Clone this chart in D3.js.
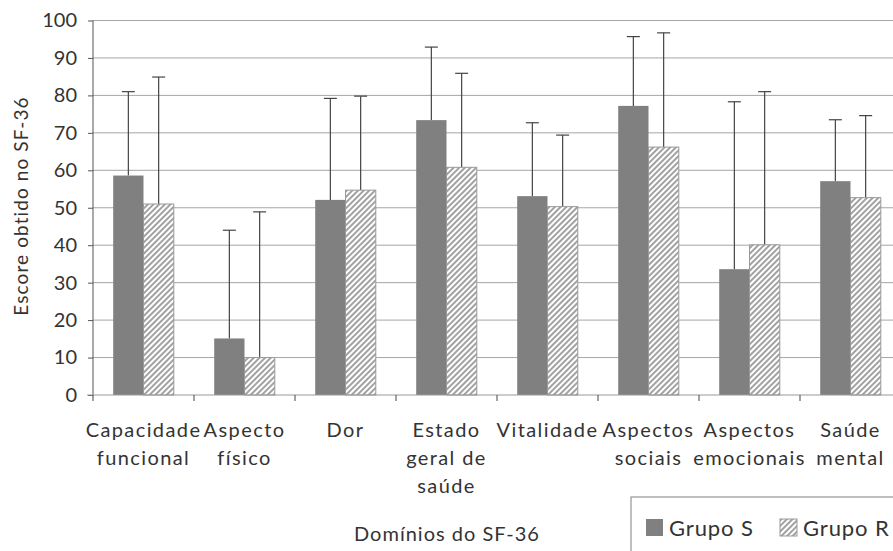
<!DOCTYPE html>
<html>
<head>
<meta charset="utf-8">
<script src="https://cdn.jsdelivr.net/npm/d3@7"></script>
<style>
  body { margin: 0; background: #fff; }
  svg { font-family: Lato, "Open Sans", sans-serif; }
</style>
</head>
<body>
<svg id="chart" width="893" height="551"></svg>
<script>
// Domains of the SF-36 (label lines)
const categories = [
  ['Capacidade', 'funcional'],
  ['Aspecto', 'físico'],
  ['Dor'],
  ['Estado', 'geral de', 'saúde'],
  ['Vitalidade'],
  ['Aspectos', 'sociais'],
  ['Aspectos', 'emocionais'],
  ['Saúde', 'mental']
];
const seriesNames = ['Grupo S', 'Grupo R'];
// Mean scores
const grupoS = [58.6, 15.1, 52.1, 73.4, 53.1, 77.2, 33.6, 57.1];
const grupoR = [51.0, 10.0, 54.7, 60.8, 50.3, 66.2, 40.1, 52.7];
// Top of the error bars
const grupoSTop = [81.0, 44.0, 79.2, 92.9, 72.7, 95.7, 78.3, 73.5];
const grupoRTop = [84.9, 48.9, 79.8, 85.9, 69.4, 96.7, 81.0, 74.6];
const yTicks = [0, 10, 20, 30, 40, 50, 60, 70, 80, 90, 100];

const svg = d3.select('#chart');
const plotLeft = 93, plotRight = 901, plotTop = 20.5, plotBottom = 395;

const x0 = d3.scaleBand()
  .domain(d3.range(categories.length))
  .range([plotLeft, plotRight])
  .paddingInner(0.4)
  .paddingOuter(0.2);
const x1 = d3.scaleBand()
  .domain(seriesNames)
  .range([0, x0.bandwidth()]);
const y = d3.scaleLinear().domain([0, 100]).range([plotBottom, plotTop]);

// hatch pattern for Grupo R
const defs = svg.append('defs');
const pat = defs.append('pattern')
  .attr('id', 'hatch')
  .attr('patternUnits', 'userSpaceOnUse')
  .attr('width', 4).attr('height', 4)
  .attr('patternTransform', 'rotate(45)');
pat.append('rect').attr('width', 4).attr('height', 4).attr('fill', '#fff');
pat.append('line')
  .attr('x1', 1).attr('y1', 0).attr('x2', 1).attr('y2', 4)
  .attr('stroke', '#8a8a8a').attr('stroke-width', 1.6);

// gridlines
svg.append('g')
  .selectAll('line')
  .data(yTicks.filter(d => d > 0))
  .join('line')
  .attr('x1', plotLeft).attr('x2', plotRight)
  .attr('y1', d => y(d)).attr('y2', d => y(d))
  .attr('stroke', '#a6a6a6').attr('stroke-width', 1);

// y axis
const yAxis = svg.append('g')
  .attr('transform', `translate(${plotLeft},0)`)
  .call(d3.axisLeft(y).tickValues(yTicks).tickSize(5).tickPadding(11));
yAxis.select('.domain').attr('stroke', '#555').attr('d', `M0,${plotTop}V${plotBottom}`);
yAxis.selectAll('.tick line').attr('stroke', '#555');
yAxis.selectAll('.tick text')
  .attr('font-size', 20).attr('fill', '#333')
  .attr('font-family', 'Lato, sans-serif');

// bars
const colors = { 'Grupo S': '#808080', 'Grupo R': 'url(#hatch)' };
const data = categories.map((c, i) => ({
  i,
  values: [
    { key: 'Grupo S', v: grupoS[i], top: grupoSTop[i] },
    { key: 'Grupo R', v: grupoR[i], top: grupoRTop[i] }
  ]
}));

const groups = svg.append('g')
  .selectAll('g')
  .data(data)
  .join('g')
  .attr('transform', d => `translate(${x0(d.i)},0)`);

// error bars (drawn first so bars sit on top of the stem)
groups.selectAll('g.err')
  .data(d => d.values)
  .join('g')
  .attr('class', 'err')
  .each(function (d) {
    const g = d3.select(this);
    const cx = x1(d.key) + x1.bandwidth() / 2;
    g.append('line')
      .attr('x1', cx).attr('x2', cx)
      .attr('y1', y(d.v)).attr('y2', y(d.top))
      .attr('stroke', '#444').attr('stroke-width', 1.2);
    g.append('line')
      .attr('x1', cx - 6.5).attr('x2', cx + 6.5)
      .attr('y1', y(d.top)).attr('y2', y(d.top))
      .attr('stroke', '#444').attr('stroke-width', 1.2);
  });

groups.selectAll('rect')
  .data(d => d.values)
  .join('rect')
  .attr('x', d => x1(d.key))
  .attr('width', x1.bandwidth())
  .attr('y', d => y(d.v))
  .attr('height', d => y(0) - y(d.v))
  .attr('fill', d => colors[d.key])
  .attr('stroke', d => d.key === 'Grupo R' ? '#999' : 'none')
  .attr('stroke-width', 1);

// x axis baseline + boundary ticks
svg.append('line')
  .attr('x1', plotLeft - 6).attr('x2', plotRight)
  .attr('y1', plotBottom).attr('y2', plotBottom)
  .attr('stroke', '#999').attr('stroke-width', 1.2);
const boundaries = d3.range(categories.length + 1).map(i => plotLeft + i * x0.step());
svg.append('g')
  .selectAll('line')
  .data(boundaries)
  .join('line')
  .attr('x1', d => d).attr('x2', d => d)
  .attr('y1', plotBottom).attr('y2', plotBottom + 6)
  .attr('stroke', '#444').attr('stroke-width', 1);

// category labels
svg.append('g')
  .selectAll('text')
  .data(categories)
  .join('text')
  .attr('text-anchor', 'middle')
  .attr('font-size', 20)
  .attr('fill', '#333')
  .attr('letter-spacing', 1.4)
  .each(function (lines, i) {
    const cx = plotLeft + i * x0.step() + x0.step() / 2;
    d3.select(this).selectAll('tspan')
      .data(lines)
      .join('tspan')
      .attr('x', cx)
      .attr('y', (d, j) => 437 + j * 28)
      .text(d => d);
  });

// axis titles
svg.append('text')
  .attr('x', 447).attr('y', 541)
  .attr('text-anchor', 'middle')
  .attr('font-size', 20).attr('fill', '#333')
  .attr('letter-spacing', 1)
  .text('Domínios do SF-36');

svg.append('text')
  .attr('transform', 'translate(28,206) rotate(-90)')
  .attr('text-anchor', 'middle')
  .attr('font-size', 19).attr('fill', '#333')
  .attr('letter-spacing', 1.1)
  .text('Escore obtido no SF-36');

// legend
const legend = svg.append('g');
legend.append('rect')
  .attr('x', 631).attr('y', 497)
  .attr('width', 300).attr('height', 100)
  .attr('fill', '#fff').attr('stroke', '#808080').attr('stroke-width', 1);
const legendX = [646, 780];
const items = legend.selectAll('g.item')
  .data(seriesNames)
  .join('g')
  .attr('class', 'item')
  .attr('transform', (d, i) => `translate(${legendX[i]},519)`);
items.append('rect')
  .attr('width', 17).attr('height', 17)
  .attr('fill', d => colors[d])
  .attr('stroke', d => d === 'Grupo R' ? '#999' : 'none');
items.append('text')
  .attr('x', 23).attr('y', 17)
  .attr('font-size', 22).attr('fill', '#333')
  .attr('letter-spacing', 0.9)
  .text(d => d);
</script>
</body>
</html>
